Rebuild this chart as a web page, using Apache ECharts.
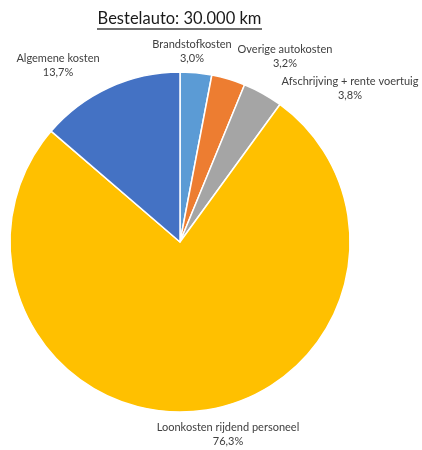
<!DOCTYPE html>
<html>
<head>
<meta charset="utf-8">
<script src="https://cdn.jsdelivr.net/npm/echarts@6/dist/echarts.min.js"></script>
<style>
  html, body { margin: 0; padding: 0; background: #fff; }
  #chart { width: 422px; height: 450px; }
</style>
</head>
<body>
<div id="chart"></div>
<script>
// Cost breakdown for a delivery van at 30,000 km per year
const categories = [
  'Brandstofkosten',
  'Overige autokosten',
  'Afschrijving + rente voertuig',
  'Loonkosten rijdend personeel',
  'Algemene kosten'
];
const shares = [3.0, 3.2, 3.8, 76.3, 13.7];
const sliceColors = ['#5B9BD5', '#ED7D31', '#A5A5A5', '#FFC000', '#4472C4'];
const chartTitle = 'Bestelauto: 30.000 km';

// Label anchor points (centre of each two-line label)
const labelSpots = [
  [192, 51], [285, 56], [350, 88], [228, 434], [58, 65]
];

const fontFamily = 'Lato, "Open Sans", sans-serif';
const chart = echarts.init(document.getElementById('chart'), null, { renderer: 'canvas' });

const fmt = v => v.toFixed(1).replace('.', ',') + '%';

chart.setOption({
  animation: false,
  graphic: [{
    type: 'text',
    x: 179.5,
    y: 19,
    style: {
      text: chartTitle,
      font: 'normal 16.5px ' + fontFamily,
      fill: '#1a1a1a',
      align: 'center',
      verticalAlign: 'middle'
    }
  }, {
    type: 'line',
    shape: { x1: 97, y1: 29, x2: 262, y2: 29 },
    style: { stroke: '#404040', lineWidth: 1.5 }
  }],
  series: [{
    type: 'pie',
    center: [180, 242],
    radius: ['0%', 170],
    startAngle: 90,
    clockwise: true,
    avoidLabelOverlap: false,
    itemStyle: { borderColor: '#fff', borderWidth: 1.5 },
    label: {
      show: true,
      position: 'outside',
      formatter: p => p.name + '\n' + fmt(p.value),
      fontFamily,
      fontSize: 11,
      lineHeight: 14,
      color: '#404040',
      align: 'center'
    },
    labelLine: { show: false },
    labelLayout: p => ({
      x: labelSpots[p.dataIndex][0],
      y: labelSpots[p.dataIndex][1],
      align: 'center',
      verticalAlign: 'middle'
    }),
    data: categories.map((c, i) => ({
      name: c,
      value: shares[i],
      itemStyle: { color: sliceColors[i] }
    }))
  }]
});
</script>
</body>
</html>
